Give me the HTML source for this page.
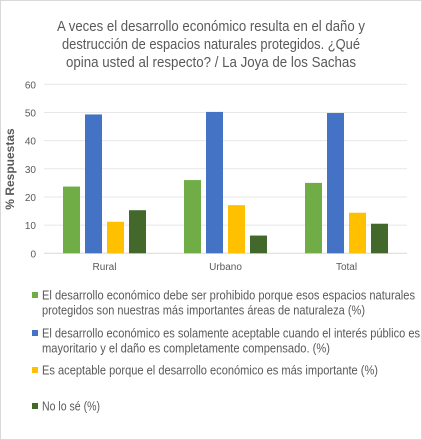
<!DOCTYPE html>
<html><head><meta charset="utf-8"><style>
body{margin:0;background:#fff;}
svg{display:block;font-family:"Liberation Sans",sans-serif;}
</style></head><body>
<svg id="c" width="422" height="440" xmlns="http://www.w3.org/2000/svg">
<rect x="0.5" y="0.5" width="421" height="439" fill="#fff" stroke="#d9d9d9"/>
<g fill="#595959" font-size="15" text-anchor="middle">
<text x="211" y="31" textLength="308" lengthAdjust="spacingAndGlyphs">A veces el desarrollo económico resulta en el daño y</text>
<text x="211" y="49" textLength="298" lengthAdjust="spacingAndGlyphs">destrucción de espacios naturales protegidos. ¿Qué</text>
<text x="211" y="67" textLength="290" lengthAdjust="spacingAndGlyphs">opina usted al respecto? / La Joya de los Sachas</text>
</g>
<text transform="translate(14,169) rotate(-90)" text-anchor="middle" font-size="12" font-weight="bold" fill="#595959">% Respuestas</text>
<g id="grid"></g><g id="bars"></g><g id="xl"></g>
<g font-size="12.5" fill="#595959">
<g><rect x="32" y="292" width="6" height="6" fill="#70ad47"/>
<text x="42" y="299.5" textLength="373" lengthAdjust="spacingAndGlyphs">El desarrollo económico debe ser prohibido porque esos espacios naturales</text>
<text x="42" y="314.5" textLength="323" lengthAdjust="spacingAndGlyphs">protegidos son nuestras más importantes áreas de naturaleza (%)</text></g>
<g><rect x="32" y="330" width="6" height="6" fill="#4472c4"/>
<text x="42" y="337.5" textLength="378" lengthAdjust="spacingAndGlyphs">El desarrollo económico es solamente aceptable cuando el interés público es</text>
<text x="42" y="352.5" textLength="288" lengthAdjust="spacingAndGlyphs">mayoritario y el daño es completamente compensado. (%)</text></g>
<g><rect x="32" y="367" width="6" height="6" fill="#ffc000"/>
<text x="42" y="374.5" textLength="336" lengthAdjust="spacingAndGlyphs">Es aceptable porque el desarrollo económico es más importante (%)</text></g>
<g><rect x="32" y="403" width="6" height="6" fill="#43682b"/>
<text x="42" y="410.5" textLength="58" lengthAdjust="spacingAndGlyphs">No lo sé (%)</text></g>
</g>
</svg>
<script>
const categories=["Rural","Urbano","Total"];
const prohibido=[23.7,26.0,25.0];
const compensado=[49.3,50.2,49.8];
const importante=[11.2,17.1,14.4];
const noSe=[15.3,6.3,10.5];
const yTicks=[0,10,20,30,40,50,60];
const NS="http://www.w3.org/2000/svg";
const x0=44,x1=407,yBase=253.3,yTop=84.3,yMax=60;
const y=v=>yBase-(v/yMax)*(yBase-yTop);
const bw=(x1-x0)/categories.length;
const cx=i=>x0+bw*(i+0.5);
function mk(t,a,p){const e=document.createElementNS(NS,t);for(const k in a)e.setAttribute(k,a[k]);p.appendChild(e);return e;}
const g=document.getElementById('grid');
yTicks.forEach(t=>{
 const l=mk('line',{x1:x0,x2:x1,y1:y(t),y2:y(t),stroke:t===0?'#d9d9d9':'#e7e7e7','stroke-width':1},g);
 
 
 const tx=mk('text',{x:36,y:y(t)+4,'text-anchor':'end','font-size':10,fill:'#595959'},g);
 tx.textContent=t;
 
 
});
const series=[[prohibido,'#70ad47','prohibido'],[compensado,'#4472c4','compensado'],[importante,'#ffc000','importante'],[noSe,'#43682b','no-se']];
const b=document.getElementById('bars');
const bar=17,gap=5;
categories.forEach((c,i)=>{
 const start=cx(i)-(4*bar+3*gap)/2;
 series.forEach((s,j)=>{
  const v=s[0][i];
  const r=mk('rect',{x:start+j*(bar+gap),y:y(v),width:bar,height:yBase-y(v),fill:s[1]},b);
  
  
 });
 const t=mk('text',{x:cx(i),y:270,'text-anchor':'middle','font-size':10,fill:'#595959'},document.getElementById('xl'));
 t.textContent=c;
 
 
});
</script>
</body></html>
